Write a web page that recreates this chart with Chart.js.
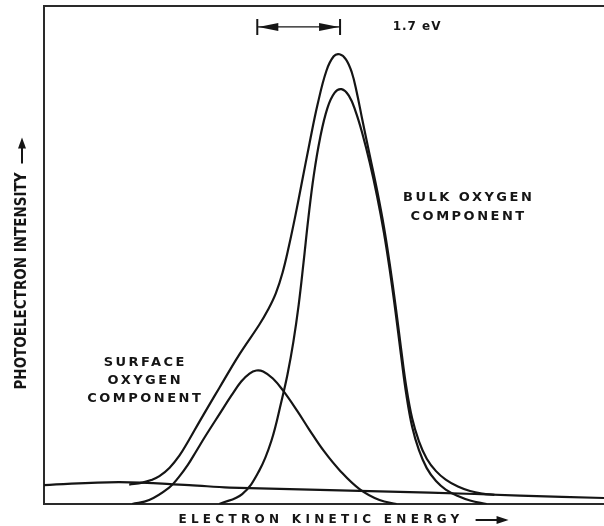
<!DOCTYPE html>
<html>
<head>
<meta charset="utf-8">
<script src="https://cdn.jsdelivr.net/npm/chart.js@4"></script>
<style>
  html, body { margin: 0; padding: 0; background: #fff; }
  #wrap { width: 604px; height: 526px; }
</style>
</head>
<body>
<div id="wrap"><canvas id="chart1"></canvas></div>
<script>
// electron kinetic energy in eV (arbitrary origin), intensity in % of full scale

const totalEnergy = [1.75, 2.02, 2.20, 2.37, 2.58, 2.78, 2.98, 3.19, 3.40, 3.60, 4.01, 4.42, 4.60, 4.76, 4.90, 5.03, 5.16, 5.30, 5.45, 5.62, 5.80, 5.95, 6.07, 6.20, 6.32, 6.42, 6.54, 6.69, 6.84, 6.98, 7.10, 7.22, 7.33, 7.44, 7.56, 7.70, 7.86, 8.05, 8.25, 8.50, 8.75, 9.00, 9.25];
const totalIntensity = [3.9, 4.3, 4.8, 5.6, 7.3, 9.7, 12.9, 16.5, 20.0, 23.3, 30.0, 36.0, 39.0, 42.3, 46.5, 51.8, 57.8, 64.8, 72.3, 80.3, 87.0, 89.9, 90.3, 89.3, 86.7, 82.8, 77.0, 70.0, 63.0, 55.7, 48.2, 39.8, 31.4, 23.5, 17.2, 12.6, 9.1, 6.6, 4.9, 3.5, 2.6, 2.1, 1.85];

const bulkEnergy = [3.60, 4.07, 4.42, 4.67, 4.88, 5.00, 5.12, 5.23, 5.33, 5.43, 5.54, 5.67, 5.82, 5.97, 6.11, 6.26, 6.40, 6.54, 6.69, 6.84, 6.98, 7.10, 7.22, 7.33, 7.44, 7.56, 7.70, 7.86, 8.05, 8.25, 8.50, 8.75, 9.09];
const bulkIntensity = [0, 2.0, 6.7, 12.7, 20.8, 26.0, 32.5, 40.0, 48.5, 57.5, 66.0, 73.5, 79.5, 82.6, 83.3, 82.0, 78.8, 74.3, 68.5, 61.8, 54.5, 47.0, 38.5, 30.0, 22.0, 15.5, 10.8, 7.2, 4.6, 2.9, 1.6, 0.7, 0];

const surfaceEnergy = [1.81, 2.16, 2.57, 2.76, 2.95, 3.12, 3.30, 3.60, 3.85, 4.05, 4.22, 4.36, 4.50, 4.70, 4.90, 5.20, 5.45, 5.75, 6.07, 6.48, 6.89, 7.24];
const surfaceIntensity = [0, 0.8, 3.3, 5.3, 7.8, 10.5, 13.4, 18.0, 21.8, 24.6, 26.2, 26.8, 26.6, 25.2, 22.9, 18.7, 14.9, 10.6, 6.8, 3.0, 0.8, 0];

const backgroundEnergy = [0, 1.54, 2.98, 3.81, 7.92, 9.77, 11.5];
const backgroundIntensity = [3.8, 4.4, 3.8, 3.3, 2.3, 1.7, 1.2];

const peakSplitFrom = 4.38;
const peakSplitTo = 6.08;
const peakSplitLabel = '1.7 eV';

const surfaceLabel = ['SURFACE', 'OXYGEN', 'COMPONENT'];
const bulkLabel = ['BULK OXYGEN', 'COMPONENT'];
const xTitle = 'ELECTRON KINETIC ENERGY';
const yTitle = 'PHOTOELECTRON INTENSITY';

const ink = '#151515';

function toPoints(xs, ys) {
    return xs.map((x, i) => ({ x: x, y: ys[i] }));
}

function curve(label, xs, ys) {
    return {
        label: label,
        data: toPoints(xs, ys),
        borderColor: ink,
        borderWidth: 2.2,
        pointRadius: 0,
        fill: false,
        tension: 0.4
    };
}

function arrowHead(ctx, tipX, tipY, dx, dy, len, half) {
    // dx,dy is unit direction the arrow points to
    const bx = tipX - dx * len, by = tipY - dy * len;
    ctx.beginPath();
    ctx.moveTo(tipX, tipY);
    ctx.lineTo(bx - dy * half, by + dx * half);
    ctx.lineTo(bx + dy * half, by - dx * half);
    ctx.closePath();
    ctx.fill();
}

function spacedLines(ctx, lines, cx, cy, lineHeight) {
    lines.forEach((t, i) => {
        ctx.fillText(t, cx, cy + i * lineHeight);
    });
}

const figureText = {
    id: 'figureText',
    afterDraw(chart) {
        const ctx = chart.ctx;
        const xs = chart.scales.x, ys = chart.scales.y, area = chart.chartArea;
        ctx.save();
        ctx.fillStyle = ink;
        ctx.strokeStyle = ink;

        // 1.7 eV bracket
        const bx1 = xs.getPixelForValue(peakSplitFrom);
        const bx2 = xs.getPixelForValue(peakSplitTo);
        const by = ys.getPixelForValue(95.8);
        ctx.lineWidth = 2;
        ctx.beginPath();
        ctx.moveTo(bx1, by - 8); ctx.lineTo(bx1, by + 8);
        ctx.moveTo(bx2, by - 8); ctx.lineTo(bx2, by + 8);
        ctx.stroke();
        ctx.lineWidth = 1.4;
        ctx.beginPath();
        ctx.moveTo(bx1, by); ctx.lineTo(bx2, by);
        ctx.stroke();
        arrowHead(ctx, bx1 + 1, by, -1, 0, 20, 4);
        arrowHead(ctx, bx2 - 1, by, 1, 0, 20, 4);

        ctx.textAlign = 'left';
        ctx.textBaseline = 'middle';
        ctx.font = 'bold 12px "DejaVu Sans", sans-serif';
        ctx.letterSpacing = '1px';
        ctx.fillText(peakSplitLabel, xs.getPixelForValue(7.16), by);

        // component labels
        ctx.textAlign = 'center';
        ctx.font = 'bold 13px "DejaVu Sans", sans-serif';
        ctx.letterSpacing = '2.5px';
        spacedLines(ctx, surfaceLabel, xs.getPixelForValue(2.08), ys.getPixelForValue(28.4), 18);
        spacedLines(ctx, bulkLabel, xs.getPixelForValue(8.72), ys.getPixelForValue(61.5), 19);

        // x axis title with arrow
        ctx.font = 'bold 12px "DejaVu Sans", sans-serif';
        ctx.letterSpacing = '4.3px';
        const xcx = (area.left + area.right) / 2 - 3;
        const xty = area.bottom + 16;
        ctx.fillText(xTitle, xcx, xty);
        const xw = ctx.measureText(xTitle).width;
        const ax0 = xcx + xw / 2 + 12;
        ctx.lineWidth = 2;
        ctx.beginPath();
        ctx.moveTo(ax0, xty); ctx.lineTo(ax0 + 30, xty);
        ctx.stroke();
        arrowHead(ctx, ax0 + 33, xty, 1, 0, 12, 4);

        // y axis title with arrow
        ctx.letterSpacing = '0px';
        ctx.font = 'bold 15px "Liberation Sans Narrow", "DejaVu Sans Condensed", sans-serif';
        const ycy = (area.top + area.bottom) / 2 + 26;
        ctx.save();
        ctx.translate(22, ycy);
        ctx.rotate(-Math.PI / 2);
        ctx.fillText(yTitle, 0, 0);
        const yw = ctx.measureText(yTitle).width;
        ctx.restore();
        const ay0 = ycy - yw / 2 - 9;
        ctx.lineWidth = 2;
        ctx.beginPath();
        ctx.moveTo(22, ay0); ctx.lineTo(22, ay0 - 22);
        ctx.stroke();
        arrowHead(ctx, 22, ay0 - 26, 0, -1, 11, 4);

        ctx.restore();
    }
};

const frameAxis = {
    display: true,
    ticks: { display: false },
    grid: { display: false, drawTicks: false },
    border: { display: true, color: '#2a2a2a', width: 2 }
};

const config = {
    type: 'line',
    data: {
        datasets: [
            curve('Total', totalEnergy, totalIntensity),
            curve('Bulk oxygen component', bulkEnergy, bulkIntensity),
            curve('Surface oxygen component', surfaceEnergy, surfaceIntensity),
            curve('Background', backgroundEnergy, backgroundIntensity)
        ]
    },
    options: {
        responsive: true,
        maintainAspectRatio: false,
        animation: false,
        layout: { padding: { left: 44, top: 6, right: 0, bottom: 22 } },
        plugins: {
            legend: { display: false },
            tooltip: { enabled: false }
        },
        scales: {
            x: Object.assign({}, frameAxis, {
                type: 'linear', position: 'bottom', min: 0, max: 11.5,
                afterFit: (s) => { s.height = 0; }
            }),
            xTop: Object.assign({}, frameAxis, {
                type: 'linear', axis: 'x', position: 'top', min: 0, max: 11.5,
                afterFit: (s) => { s.height = 0; }
            }),
            y: Object.assign({}, frameAxis, {
                type: 'linear', position: 'left', min: 0, max: 100,
                afterFit: (s) => { s.width = 0; }
            })
        }
    },
    plugins: [figureText]
};

const chart1 = new Chart(document.getElementById('chart1'), config);
</script>
</body>
</html>
